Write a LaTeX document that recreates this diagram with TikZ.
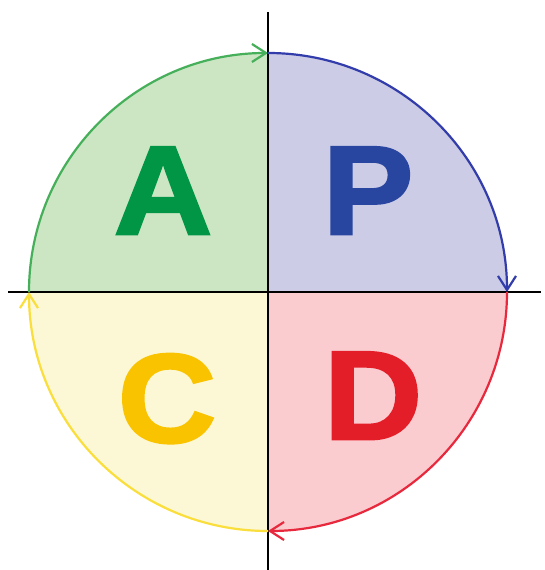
\documentclass[tikz,border=0pt]{standalone}
\usepackage{fontspec}
\setmainfont{Liberation Sans}
\newfontfamily\heavy{Liberation Sans Bold}[FakeBold=2.2,FakeStretch=1.08]
\usetikzlibrary{arrows.meta}
\definecolor{gfill}{RGB}{204,230,196}
\definecolor{bfill}{RGB}{204,204,230}
\definecolor{rfill}{RGB}{250,204,208}
\definecolor{yfill}{RGB}{252,248,214}
\definecolor{gline}{RGB}{70,175,90}
\definecolor{bline}{RGB}{50,60,170}
\definecolor{rline}{RGB}{232,40,60}
\definecolor{yline}{RGB}{250,222,60}
\definecolor{gtext}{RGB}{0,150,70}
\definecolor{btext}{RGB}{40,70,160}
\definecolor{rtext}{RGB}{228,30,40}
\definecolor{ytext}{RGB}{250,195,0}
\begin{document}
\begin{tikzpicture}[x=1pt,y=1pt,
  arcline/.style={line width=2.2pt,-{Straight Barb[length=14pt,width=18pt,line width=2.2pt]}},
  axis/.style={line width=2pt,black},
  letter/.style={inner sep=0pt,anchor=base,font=\fontsize{126}{126}\selectfont\heavy}]
\useasboundingbox (0,0) rectangle (544,570);
\fill[white] (0,0) rectangle (544,570);
\coordinate (O) at (268,278);
\def\R{239}
\fill[gfill] (O) -- ([shift={(180:\R)}]O) arc[start angle=180,end angle=90,radius=\R] -- cycle;
\fill[bfill] (O) -- ([shift={(90:\R)}]O) arc[start angle=90,end angle=0,radius=\R] -- cycle;
\fill[rfill] (O) -- ([shift={(0:\R)}]O) arc[start angle=0,end angle=-90,radius=\R] -- cycle;
\fill[yfill] (O) -- ([shift={(-90:\R)}]O) arc[start angle=-90,end angle=-180,radius=\R] -- cycle;
\coordinate (T) at (268,558);
\coordinate (B) at (268,0);
\coordinate (L) at (8,278);
\coordinate (Rt) at (541,278);
\draw[axis] (T) -- (B);
\draw[axis] (L) -- (Rt);
\draw[arcline,gline] ([shift={(180:\R)}]O) arc[start angle=180,end angle=90,radius=\R];
\draw[arcline,bline] ([shift={(90:\R)}]O) arc[start angle=90,end angle=0,radius=\R];
\draw[arcline,rline] ([shift={(0:\R)}]O) arc[start angle=0,end angle=-90,radius=\R];
\draw[arcline,yline] ([shift={(-90:\R)}]O) arc[start angle=-90,end angle=-180,radius=\R];
\node[letter,text=gtext] (a) at (163,336) {A};
\node[letter,text=btext] (p) at (368,336) {P};
\node[letter,text=ytext] (c) at (167,128) {C};
\node[letter,text=rtext] (d) at (373,131) {D};
\end{tikzpicture}
\end{document}
